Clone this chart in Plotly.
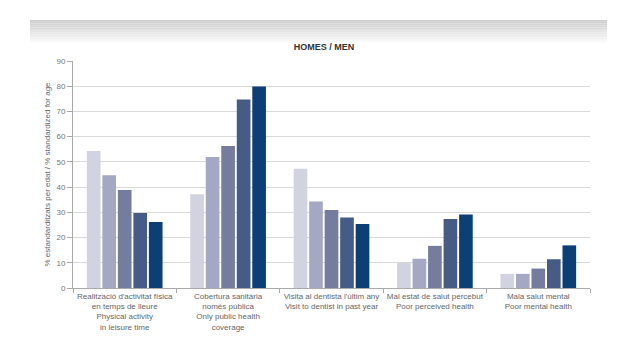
import plotly.graph_objects as go

categories = [
    "Realització d'activitat física<br>en temps de lleure<br>Physical activity<br>in leisure time",
    "Cobertura sanitària<br>només pública<br>Only public health<br>coverage",
    "Visita al dentista l'últim any<br>Visit to dentist in past year",
    "Mal estat de salut percebut<br>Poor perceived health",
    "Mala salut mental<br>Poor mental health",
]
series_names = ["Grup 1", "Grup 2", "Grup 3", "Grup 4", "Grup 5"]
values = [
    [54.3, 37.2, 47.3, 9.9, 5.6],
    [44.7, 51.9, 34.3, 11.6, 5.6],
    [38.9, 56.3, 30.9, 16.7, 7.7],
    [29.7, 74.7, 28.0, 27.4, 11.4],
    [26.2, 79.9, 25.4, 29.1, 16.9],
]
colors = ["#d2d3e0", "#a5a8c3", "#757c9e", "#465b86", "#0b3f75"]
y_ticks = [0, 10, 20, 30, 40, 50, 60, 70, 80, 90]

fig = go.Figure()
for name, vals, col in zip(series_names, values, colors):
    fig.add_trace(go.Bar(x=categories, y=vals, name=name, marker_color=col,
                         marker_line_width=0))

font_family = "Liberation Sans Narrow, Arial Narrow, Liberation Sans, Arial, sans-serif"

# page body has 8px default margin; figure coordinates are offset by 8px
OFF = 8
W, H = 630, 351
L, R, T, B = 73 - OFF, 48, 61 - OFF, 71
ph = H - T - B
pw = W - L - R

# grey gradient band at top
n = 14
for i in range(n):
    g = int(205 + (255 - 205) * i / (n - 1))
    fig.add_shape(type="rect", xref="paper", yref="paper",
                  x0=(30 - OFF - L) / pw, x1=(607 - OFF - L) / pw,
                  y0=(H - B - (20 - OFF + 25 * (i + 1) / n)) / ph,
                  y1=(H - B - (20 - OFF + 25 * i / n)) / ph,
                  fillcolor=f"rgb({g},{g},{g})", line_width=0, layer="below")

fig.update_layout(
    width=W, height=H,
    margin=dict(l=L, r=R, t=T, b=B),
    paper_bgcolor="white", plot_bgcolor="white",
    barmode="group", bargap=0.25, bargroupgap=0.12,
    showlegend=False,
    font=dict(family=font_family, size=8, color="#666666"),
    title=dict(text="<b>HOMES / MEN</b>", x=(324 - OFF) / W, xanchor="center",
               y=1 - (47 - OFF) / H, yanchor="middle",
               font=dict(family=font_family, size=9, color="#333333")),
)
fig.update_xaxes(
    tickson="boundaries", ticks="outside", ticklen=4, tickcolor="#aaaaaa",
    showline=True, linecolor="#aaaaaa", linewidth=1, showgrid=False,
    tickangle=0, automargin=False,
    tickfont=dict(size=8, color="#666666"), fixedrange=True,
)
fig.update_yaxes(
    range=[0, 90], tickvals=y_ticks, ticks="outside", ticklen=5,
    tickcolor="#aaaaaa", showline=True, linecolor="#aaaaaa", linewidth=1,
    gridcolor="#d9d9d9", gridwidth=1, zeroline=False, automargin=False,
    tickfont=dict(size=8, color="#777777"),
    title=dict(text="% estandarditzats per edat / % standardized for age",
               font=dict(size=8, color="#666666"), standoff=4),
)

fig.write_html("out.html")
